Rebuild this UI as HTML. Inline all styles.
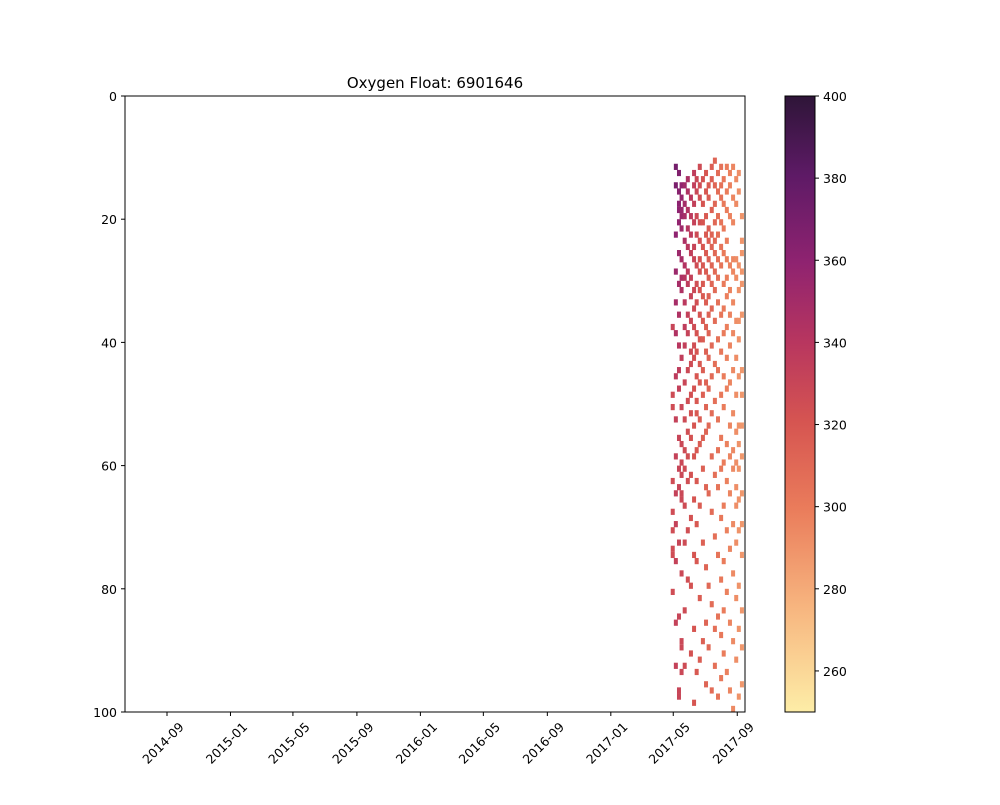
<!DOCTYPE html>
<html><head><meta charset="utf-8"><style>
body{margin:0;background:#fff;}
svg text{font-family:"DejaVu Sans","Liberation Sans",sans-serif;font-size:12.5px;fill:#000;}
</style></head><body>
<svg id="chart" width="1000" height="800" viewBox="0 0 1000 800" xmlns="http://www.w3.org/2000/svg">
<rect width="1000" height="800" fill="#fff"/>
<text x="435" y="88" text-anchor="middle" style="font-size:15px">Oxygen Float: 6901646</text>
<defs>
<clipPath id="plotclip"><rect x="125" y="96" width="620" height="616"/></clipPath>
<linearGradient id="cbgrad" x1="0" y1="1" x2="0" y2="0">
<stop offset="0" stop-color="#fdeda7"/>
<stop offset="0.17" stop-color="#f7b57f"/>
<stop offset="0.33" stop-color="#ea7c5b"/>
<stop offset="0.47" stop-color="#d65551"/>
<stop offset="0.6" stop-color="#b8365f"/>
<stop offset="0.73" stop-color="#8f2370"/>
<stop offset="0.87" stop-color="#5e1a66"/>
<stop offset="1" stop-color="#2e1538"/>
</linearGradient>
</defs>
<g id="marks" clip-path="url(#plotclip)"></g>
<rect x="125" y="96" width="620" height="616" fill="none" stroke="#000" stroke-width="1"/>
<g id="axes"></g>
<rect x="785" y="96" width="30" height="616" fill="url(#cbgrad)" stroke="#000" stroke-width="1"/>
<g id="cbaxis"></g>
</svg>
<script>
const profileDates = ["2017-04-30","2017-05-06","2017-05-12","2017-05-17","2017-05-23","2017-05-29","2017-06-04","2017-06-10","2017-06-15","2017-06-21","2017-06-27","2017-07-03","2017-07-08","2017-07-14","2017-07-20","2017-07-26","2017-08-01","2017-08-06","2017-08-12","2017-08-18","2017-08-24","2017-08-30","2017-09-04","2017-09-10"];
const profileOxygenTop = [340,372,368,362,355,348,342,336,330,326,322,320,318,315,312,308,305,302,300,298,296,294,292,290];
const profileOxygenDeep = [325,332,330,328,326,324,322,320,318,316,314,312,310,308,306,304,302,300,298,296,294,292,290,288];
const profileDepths = [
[37,48,50,62,67,70,73,74,80],
[11,14,22,28,33,38,45,52,58,64,69,75,85,92],
[12,15,17,18,20,25,30,35,40,44,47,55,60,63,72,84,96,97],
[14,16,18,19,21,26,29,31,42,50,56,59,61,64,65,77,88,89,93],
[14,17,19,23,27,29,33,37,40,46,52,57,60,66,72,83,92],
[13,15,18,21,24,28,30,35,38,44,49,54,58,62,70,78],
[16,19,22,25,29,32,36,41,43,48,51,55,61,68,79,90],
[12,14,17,20,24,26,31,34,37,40,42,47,53,58,65,74,86,98],
[13,15,19,22,27,30,33,38,41,45,49,51,57,62,69,75,93],
[11,14,16,20,23,26,28,31,35,39,43,46,52,56,66,81,91],
[13,17,20,24,27,30,32,36,39,44,48,55,60,72,88],
[12,15,19,22,25,28,33,37,41,46,50,54,63,76,85,95],
[14,16,21,23,26,29,32,35,38,42,47,53,64,79,89],
[11,13,18,22,24,27,30,34,40,45,51,58,67,82,96],
[10,14,17,20,23,25,28,31,36,43,49,61,71,86,92],
[12,15,19,22,26,29,33,39,44,52,57,63,74,84,97],
[11,14,16,20,24,27,35,41,48,55,60,68,78,87,94],
[13,17,21,25,30,34,38,45,50,59,66,75,83,90],
[11,15,18,23,26,29,32,37,42,47,56,62,70,80,93],
[12,14,19,27,31,35,40,46,53,58,64,73,85,96],
[11,16,20,26,28,33,38,44,51,57,60,69,77,88,99],
[13,17,26,29,36,42,48,54,59,63,66,72,81,91],
[12,15,27,31,36,39,45,53,56,60,65,70,79,86,97],
[19,23,25,28,30,35,44,48,53,58,64,69,74,83,89,95]
];
const xTickLabels = ["2014-09","2015-01","2015-05","2015-09","2016-01","2016-05","2016-09","2017-01","2017-05","2017-09"];
const yTickLabels = [0,20,40,60,80,100];
const cbTickLabels = [260,280,300,320,340,360,380,400];

const NS="http://www.w3.org/2000/svg";
const day0 = Date.UTC(2014,8,1);
function parseD(s){const p=s.split("-");return Date.UTC(+p[0],+p[1]-1,+(p[2]||1));}
function xScale(s){return 167 + (parseD(s)-day0)/86400000*0.5203;}
function yScale(d){return 96 + d*6.16;}
function cbScale(v){return 712 - (v-250)/150*616;}
const stops=[[250,[253,237,167]],[275,[247,181,127]],[300,[234,124,91]],[320,[214,85,81]],[340,[184,54,95]],[360,[143,35,112]],[380,[94,26,102]],[400,[46,21,56]]];
function color(v){
  v=Math.max(250,Math.min(400,v));
  for(let i=0;i<stops.length-1;i++){const a=stops[i],b=stops[i+1];
    if(v<=b[0]){const t=(v-a[0])/(b[0]-a[0]);const c=a[1].map((x,j)=>Math.round(x+(b[1][j]-x)*t));return "rgb("+c.join(",")+")";}}
  return "rgb(46,21,56)";
}
function mk(tag,attrs,parent){const e=document.createElementNS(NS,tag);for(const k in attrs)e.setAttribute(k,attrs[k]);parent.appendChild(e);return e;}

const marks=document.getElementById("marks");
profileDates.forEach((d,i)=>{
  const x=xScale(d);
  profileDepths[i].forEach(dep=>{
    const t=Math.min(1,Math.max(0,(dep-10)/40));
    const v=profileOxygenTop[i]+(profileOxygenDeep[i]-profileOxygenTop[i])*t;
    const r=mk("rect",{x:(x-2).toFixed(2),y:yScale(dep).toFixed(2),width:4,height:6.2,fill:color(v)},marks);
    
    
  });
});

const axes=document.getElementById("axes");
xTickLabels.forEach(l=>{
  const x=xScale(l);
  const t=mk("line",{x1:x,y1:712,x2:x,y2:716,stroke:"#000"},axes);
  
  
  const tx=mk("text",{"text-anchor":"middle","dominant-baseline":"central",transform:"translate("+(x-4)+",743) rotate(-45)"},axes);
  tx.textContent=l;
  
  
});
yTickLabels.forEach(v=>{
  const y=yScale(v);
  const t=mk("line",{x1:121,y1:y,x2:125,y2:y,stroke:"#000"},axes);
  
  
  const tx=mk("text",{x:117,y:y+5,"text-anchor":"end"},axes);
  tx.textContent=v;
  
  
});
const cb=document.getElementById("cbaxis");
cbTickLabels.forEach(v=>{
  const y=cbScale(v);
  const t=mk("line",{x1:815,y1:y,x2:819,y2:y,stroke:"#000"},cb);
  
  
  const tx=mk("text",{x:823,y:y+5},cb);
  tx.textContent=v;
  
  
});
</script>
</body></html>
